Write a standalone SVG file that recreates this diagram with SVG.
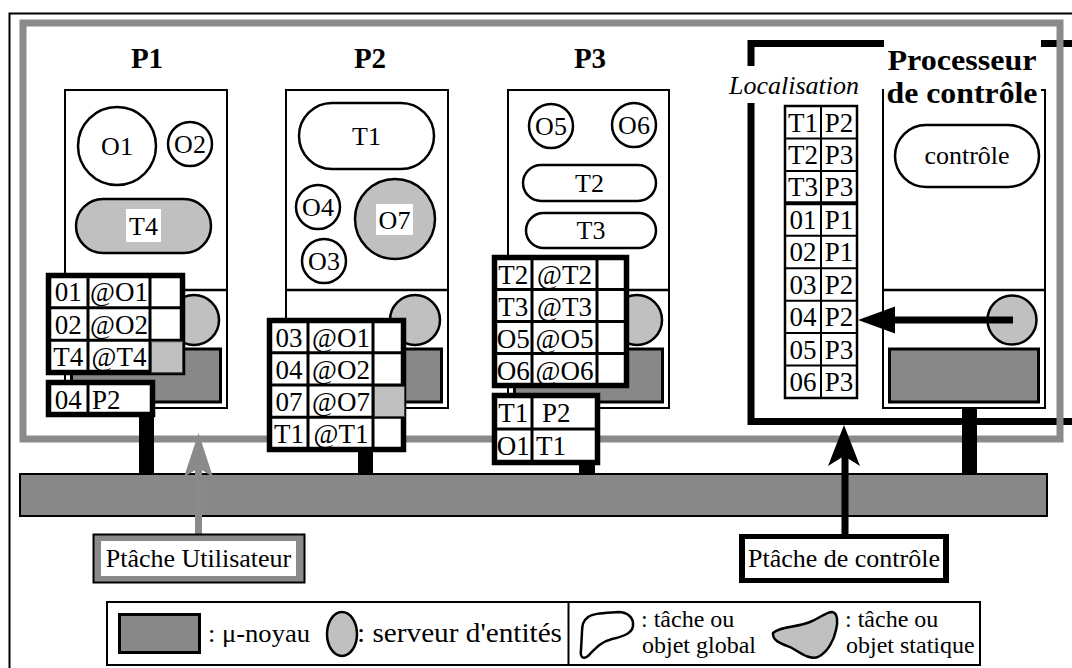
<svg xmlns="http://www.w3.org/2000/svg" width="1072" height="668" viewBox="0 0 1072 668" font-family="'Liberation Serif', Tinos, 'DejaVu Serif', 'Times New Roman', serif">
<defs>
<style>
text { font-family: "Liberation Serif", Tinos, "DejaVu Serif", "Times New Roman", serif; fill: #000; }
.box { fill: #fff; stroke: #000; stroke-width: 2; }
.sep { stroke: #000; stroke-width: 2.5; }
.obj { fill: #fff; stroke: #000; stroke-width: 2.5; }
.stat { fill: #c0c0c0; stroke: #000; stroke-width: 2.5; }
.srv { fill: #c0c0c0; stroke: #000; stroke-width: 2.5; }
.ker { fill: #888; stroke: #000; stroke-width: 3; }
.lbl { font-size: 26px; text-anchor: middle; }
.title { font-size: 29px; font-weight: bold; text-anchor: middle; }
.tbl { fill: #fff; stroke: #000; stroke-width: 5.5; }
.grid { stroke: #000; stroke-width: 3; fill: none; }
.ltbl { fill: #fff; stroke: #000; stroke-width: 2.5; }
.lgrid { stroke: #000; stroke-width: 2; fill: none; }
.cell { font-size: 27px; text-anchor: middle; }
.cellL { font-size: 27px; }
.gcell { fill: #c0c0c0; stroke: #444; stroke-width: 1; }
.bar { fill: #000; }
.mask { fill: #fff; }
.leg { font-size: 24px; }
</style>
</defs>

<rect x="0" y="0" width="1072" height="668" fill="#fff"/>

<!-- outer page frame -->
<path d="M9.5,668 V13.5 H1072" fill="none" stroke="#000" stroke-width="2"/>

<!-- control task domain (black) -->
<path id="ctrl-domain" d="M1072,43.5 H751 V421.5 H1072" fill="none" stroke="#000" stroke-width="7"/>

<!-- user task domain (grey) -->
<rect id="user-domain" x="23" y="23" width="1037" height="416" fill="none" stroke="#8a8a8a" stroke-width="7"/>

<!-- network bus -->
<rect id="bus" x="20" y="474" width="1027" height="42" fill="#888" stroke="#000" stroke-width="2"/>

<!-- ===== P1 ===== -->
<g id="P1">
  <text class="title" x="147" y="68">P1</text>
  <rect class="box" x="65" y="90" width="162" height="318"/>
  <line class="sep" x1="65" y1="290" x2="227" y2="290"/>
  <circle class="obj" cx="117" cy="146" r="39"/>
  <text class="lbl" x="117" y="155">O1</text>
  <circle class="obj" cx="190" cy="144" r="22"/>
  <text class="lbl" x="190" y="153">O2</text>
  <rect class="stat" x="76" y="199" width="135" height="54" rx="27"/>
  <rect class="mask" x="126" y="209" width="35" height="33"/>
  <text class="lbl" x="143.5" y="235">T4</text>
  <circle class="srv" cx="194" cy="320" r="25"/>
  <rect class="ker" x="71.5" y="349" width="149" height="53"/>
  <!-- local entity table -->
  <rect class="tbl" x="48.5" y="275.5" width="134" height="97"/>
  <path class="grid" d="M88,275.5 V372.5 M150,275.5 V372.5 M48.5,307.8 H182.5 M48.5,340.2 H182.5"/>
  <rect class="gcell" x="151.5" y="341.7" width="31" height="31"/>
  <text class="cell" x="68.3" y="301">01</text><text class="cell" x="119" y="301">@O1</text>
  <text class="cell" x="68.3" y="333.5">02</text><text class="cell" x="119" y="333.5">@O2</text>
  <text class="cell" x="68.3" y="366">T4</text><text class="cell" x="119" y="366">@T4</text>
  <!-- cache table -->
  <rect class="tbl" x="48.5" y="382.5" width="104" height="32"/>
  <path class="grid" d="M88,382.5 V414.5"/>
  <text class="cell" x="68.3" y="408.5">04</text><text class="cellL" x="92" y="408.5">P2</text>
</g>

<!-- ===== P2 ===== -->
<g id="P2">
  <text class="title" x="370" y="68">P2</text>
  <rect class="box" x="286" y="90" width="162" height="318"/>
  <line class="sep" x1="286" y1="290" x2="448" y2="290"/>
  <rect class="obj" x="299" y="103" width="135" height="66" rx="33"/>
  <text class="lbl" x="366.5" y="145">T1</text>
  <circle class="obj" cx="318" cy="207" r="22"/>
  <text class="lbl" x="318" y="216">O4</text>
  <circle class="obj" cx="324" cy="261" r="22"/>
  <text class="lbl" x="324" y="270">O3</text>
  <circle class="stat" cx="395" cy="219" r="40"/>
  <rect class="mask" x="376" y="204" width="37" height="31"/>
  <text class="lbl" x="394.5" y="229">O7</text>
  <circle class="srv" cx="415" cy="320" r="25"/>
  <rect class="ker" x="292.5" y="349" width="149" height="53"/>
  <rect class="tbl" x="269.5" y="320.5" width="134" height="129"/>
  <path class="grid" d="M308,320.5 V449.5 M373,320.5 V449.5 M269.5,352.75 H403.5 M269.5,385 H403.5 M269.5,417.25 H403.5"/>
  <rect class="gcell" x="374.5" y="386.5" width="30" height="30"/>
  <text class="cell" x="289" y="346.5">03</text><text class="cell" x="341" y="346.5">@O1</text>
  <text class="cell" x="289" y="378.8">04</text><text class="cell" x="341" y="378.8">@O2</text>
  <text class="cell" x="289" y="411">07</text><text class="cell" x="341" y="411">@O7</text>
  <text class="cell" x="289" y="443.3">T1</text><text class="cell" x="341" y="443.3">@T1</text>
</g>

<!-- ===== P3 ===== -->
<g id="P3">
  <text class="title" x="590" y="68">P3</text>
  <rect class="box" x="508" y="90" width="161" height="318"/>
  <line class="sep" x1="508" y1="290" x2="669" y2="290"/>
  <circle class="obj" cx="551" cy="126" r="22"/>
  <text class="lbl" x="551" y="135">O5</text>
  <circle class="obj" cx="634" cy="125" r="22"/>
  <text class="lbl" x="634" y="134">O6</text>
  <rect class="obj" x="523" y="165" width="133" height="36" rx="18"/>
  <text class="lbl" x="589.5" y="192">T2</text>
  <rect class="obj" x="526" y="213" width="130" height="35" rx="17.5"/>
  <text class="lbl" x="591" y="239">T3</text>
  <circle class="srv" cx="637" cy="320" r="25"/>
  <rect class="ker" x="514.5" y="349" width="148" height="53"/>
  <rect class="tbl" x="494.5" y="257.5" width="132" height="128"/>
  <path class="grid" d="M532,257.5 V385.5 M597,257.5 V385.5 M494.5,289.5 H626.5 M494.5,321.5 H626.5 M494.5,353.5 H626.5"/>
  <text class="cell" x="513.3" y="283.5">T2</text><text class="cell" x="564.5" y="283.5">@T2</text>
  <text class="cell" x="513.3" y="315.5">T3</text><text class="cell" x="564.5" y="315.5">@T3</text>
  <text class="cell" x="513.3" y="347.5">O5</text><text class="cell" x="564.5" y="347.5">@O5</text>
  <text class="cell" x="513.3" y="379.5">O6</text><text class="cell" x="564.5" y="379.5">@O6</text>
  <rect class="tbl" x="494.5" y="395.5" width="103" height="67"/>
  <path class="grid" d="M532,395.5 V462.5 M494.5,429 H597.5"/>
  <text class="cell" x="513.3" y="421.5">T1</text><text class="cellL" x="542" y="421.5">P2</text>
  <text class="cell" x="513.3" y="455">O1</text><text class="cellL" x="536" y="455">T1</text>
</g>

<!-- ===== control processor ===== -->
<g id="control">
  <rect class="box" x="883" y="90" width="162" height="318"/>
  <line class="sep" x1="883" y1="290" x2="1045" y2="290"/>
  <rect class="mask" x="884" y="39" width="157" height="70"/>
  <text class="title" x="962" y="70" textLength="149" lengthAdjust="spacingAndGlyphs">Processeur</text>
  <text class="title" x="962" y="103" textLength="151" lengthAdjust="spacingAndGlyphs">de contrôle</text>
  <rect class="obj" x="895" y="125" width="144" height="62" rx="31"/>
  <text class="lbl" x="967" y="164">contrôle</text>
  <circle class="srv" cx="1012" cy="320" r="24.5"/>
  <rect class="ker" x="889.5" y="349" width="149" height="53"/>
  <line x1="893" y1="320" x2="1013" y2="320" stroke="#000" stroke-width="7"/>
  <polygon points="858,320 895,306.5 895,333.5" fill="#000"/>
</g>

<!-- ===== location table ===== -->
<g id="localisation">
  <rect class="mask" x="726" y="66" width="136" height="37"/>
  <text x="794" y="94" style="font-size:26px;font-style:italic;text-anchor:middle">Localisation</text>
  <rect class="ltbl" x="785" y="106" width="72" height="292"/>
  <path class="lgrid" d="M821,106 V398 M785,138.4 H857 M785,170.9 H857 M785,235.8 H857 M785,268.2 H857 M785,300.7 H857 M785,333.1 H857 M785,365.6 H857"/>
  <line x1="785" y1="203.3" x2="857" y2="203.3" stroke="#000" stroke-width="4"/>
  <text class="cell" x="803" y="131.5">T1</text><text class="cell" x="839" y="131.5">P2</text>
  <text class="cell" x="803" y="164">T2</text><text class="cell" x="839" y="164">P3</text>
  <text class="cell" x="803" y="196.4">T3</text><text class="cell" x="839" y="196.4">P3</text>
  <text class="cell" x="803" y="228.8">01</text><text class="cell" x="839" y="228.8">P1</text>
  <text class="cell" x="803" y="261.3">02</text><text class="cell" x="839" y="261.3">P1</text>
  <text class="cell" x="803" y="293.7">03</text><text class="cell" x="839" y="293.7">P2</text>
  <text class="cell" x="803" y="326.2">04</text><text class="cell" x="839" y="326.2">P2</text>
  <text class="cell" x="803" y="358.6">05</text><text class="cell" x="839" y="358.6">P3</text>
  <text class="cell" x="803" y="391.1">06</text><text class="cell" x="839" y="391.1">P3</text>
</g>

<!-- ===== connectors ===== -->
<g id="connectors">
  <rect class="bar" x="139" y="416" width="15" height="59"/>
  <rect class="bar" x="358" y="451" width="15" height="24"/>
  <rect class="bar" x="579" y="464" width="16" height="11"/>
  <rect class="bar" x="962" y="408" width="15" height="67"/>
  <!-- user task arrow -->
  <line x1="198.5" y1="466" x2="198.5" y2="535" stroke="#8a8a8a" stroke-width="7"/>
  <polygon points="198.5,433 213,477 198.5,468 184,477" fill="#8a8a8a"/>
  <!-- control task arrow -->
  <line x1="845" y1="455" x2="845" y2="535" stroke="#000" stroke-width="7"/>
  <polygon points="844,425 860,466 844,456 828,466" fill="#000"/>
</g>

<!-- ===== task labels ===== -->
<g id="user-task">
  <rect x="93.5" y="534.5" width="211" height="48" fill="#8a8a8a" stroke="#000" stroke-width="2"/>
  <rect class="mask" x="101" y="541" width="195" height="35"/>
  <text class="lbl" x="198.5" y="567">Ptâche Utilisateur</text>
</g>
<g id="control-task">
  <rect x="739" y="534" width="210" height="49" fill="#000"/>
  <rect class="mask" x="745" y="539" width="198" height="39"/>
  <text class="lbl" x="844" y="567">Ptâche de contrôle</text>
</g>

<!-- ===== legend ===== -->
<g id="legend">
  <rect x="107" y="602" width="873" height="63" fill="#fff" stroke="#000" stroke-width="2"/>
  <line x1="568.5" y1="602" x2="568.5" y2="665" stroke="#000" stroke-width="2"/>
  <rect class="ker" x="119.5" y="614.5" width="80" height="38"/>
  <text x="208" y="642" style="font-size:26px" textLength="102" lengthAdjust="spacingAndGlyphs">: μ-noyau</text>
  <ellipse class="srv" cx="342" cy="634" rx="15" ry="22"/>
  <text x="357" y="642" style="font-size:27px" textLength="205" lengthAdjust="spacingAndGlyphs">: serveur d'entités</text>
  <path class="obj" d="M587,618 C592,613 605,613 618,612 C628,612 634,618 633,626 C632,633 625,636 612,639 C600,642 594,650 588,656 C583,660 580,657 581,650 L582,632 C582,625 584,620 587,618 Z"/>
  <text class="leg" x="641" y="627">: tâche ou</text>
  <text class="leg" x="642" y="653">objet global</text>
  <path class="stat" d="M773,633 C780,626 795,628 810,622 C820,618 826,612 832,612 C838,613 838,622 836,630 C834,640 828,652 818,657 C808,660 800,652 790,647 C782,644 772,641 773,633 Z"/>
  <text class="leg" x="845" y="627">: tâche ou</text>
  <text class="leg" x="846" y="653">objet statique</text>
</g>
</svg>
